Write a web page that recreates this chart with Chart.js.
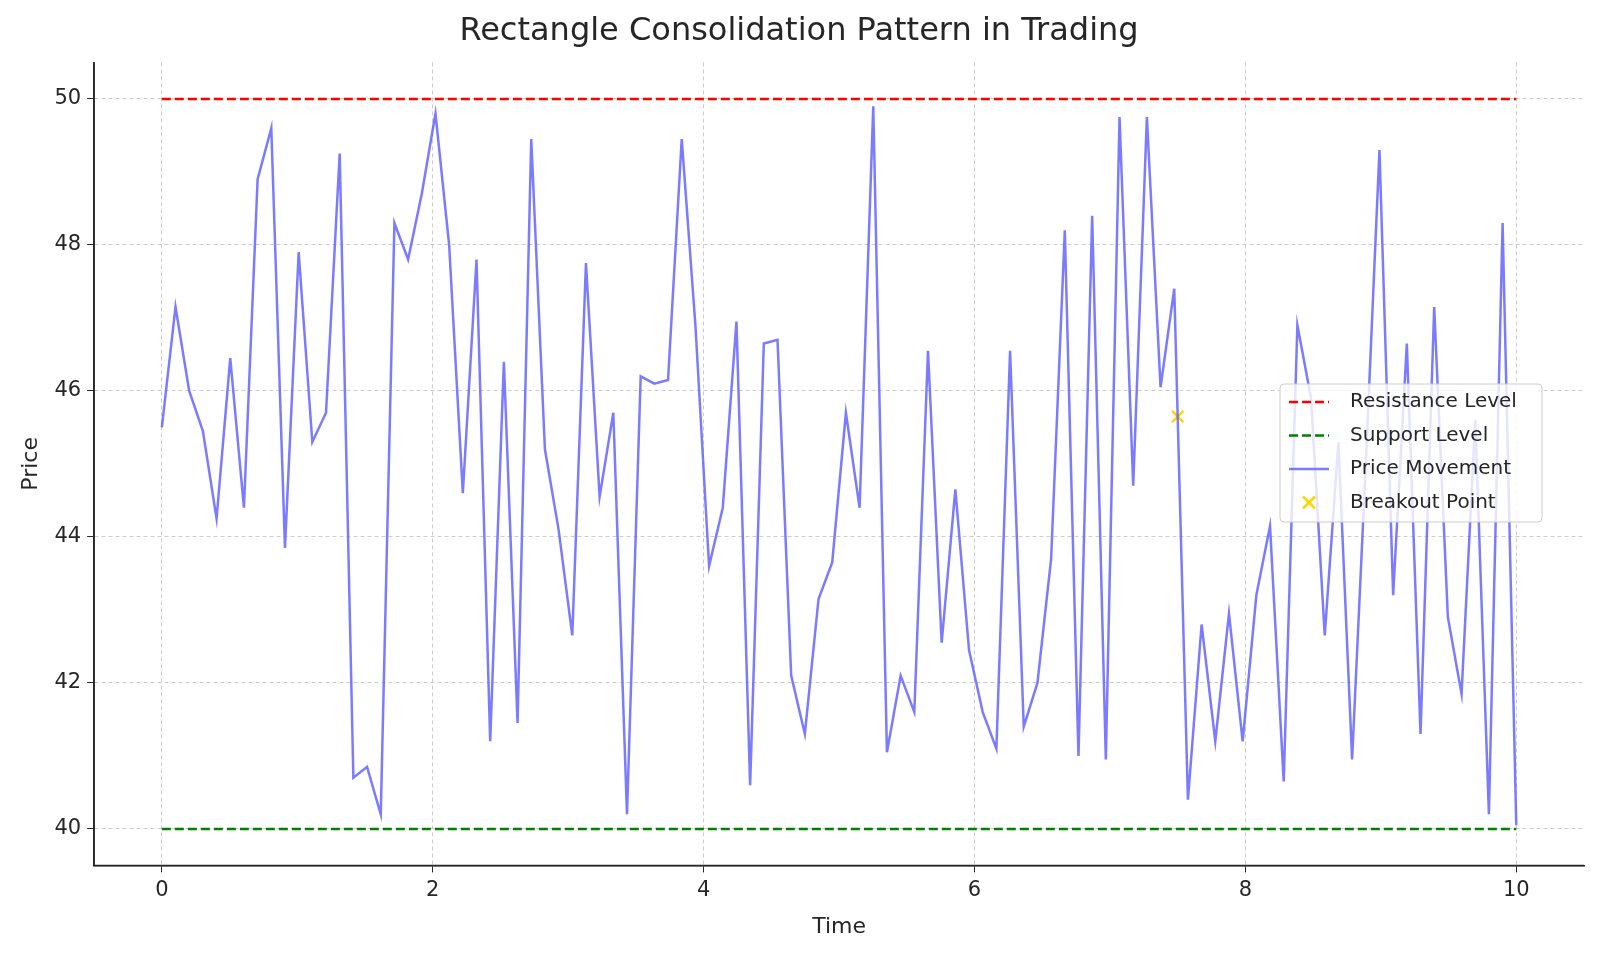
<!DOCTYPE html>
<html><head><meta charset="utf-8">
<script src="https://cdn.jsdelivr.net/npm/chart.js@4"></script>
<style>html,body{margin:0;padding:0;background:#fff}#w{width:1600px;height:954px}</style>
</head><body><div id="w"><canvas id="c"></canvas></div>
<script>
const prices=[45.5,47.15,46.0,45.45,44.25,46.45,44.4,48.9,49.6,43.85,47.9,45.3,45.7,49.25,40.7,40.85,40.2,48.3,47.8,48.7,49.8,48.0,44.6,47.8,41.2,46.4,41.45,49.45,45.2,44.1,42.65,47.75,44.55,45.7,40.2,46.2,46.1,46.15,49.45,46.9,43.6,44.4,46.95,40.6,46.65,46.7,42.1,41.3,43.15,43.65,45.7,44.4,49.9,41.05,42.1,41.6,46.55,42.55,44.65,42.45,41.6,41.1,46.55,41.4,42.0,43.7,48.2,41.0,48.4,40.95,49.75,44.7,49.75,46.05,47.4,40.4,42.8,41.2,42.95,41.2,43.2,44.15,40.65,46.9,45.9,42.65,45.3,40.95,45.0,49.3,43.2,46.65,41.3,47.15,42.9,41.85,45.6,40.2,48.3,40.05];
const times=prices.map((_,i)=>i*10/99);
const resistance=50, support=40;
const breakout={x:7.5,y:45.65};
const font="'DejaVu Sans'";
const axesPlugin={id:'ax',afterDatasetsDraw(ch){const c=ch.ctx,a=ch.chartArea;c.save();c.strokeStyle='#262626';c.lineWidth=1.5;c.beginPath();c.moveTo(a.left,a.top);c.lineTo(a.left,a.bottom);c.lineTo(a.right,a.bottom);c.stroke();c.restore();}};
const legendPlugin={id:'lg',afterDraw(ch){
  const c=ch.ctx,x=1280,y=384,w=262,h=138;
  c.save();c.fillStyle='rgba(255,255,255,0.8)';c.strokeStyle='#ccc';c.lineWidth=1;
  c.beginPath();c.roundRect(x,y,w,h,4);c.fill();c.stroke();
  const items=[['Resistance Level','red','dash'],['Support Level','green','dash'],['Price Movement','rgba(100,100,255,0.85)','line'],['Breakout Point','gold','x']];
  c.font="20px "+font;c.textBaseline='middle';
  items.forEach((it,i)=>{const yy=y+18+i*33.5;c.strokeStyle=it[1];c.lineWidth=2.5;
    if(it[2]==='x'){c.beginPath();c.moveTo(1303,yy-6);c.lineTo(1315,yy+6);c.moveTo(1315,yy-6);c.lineTo(1303,yy+6);c.stroke();}
    else{c.setLineDash(it[2]==='dash'?[9,4]:[]);c.beginPath();c.moveTo(1289,yy);c.lineTo(1329,yy);c.stroke();c.setLineDash([]);}
    c.fillStyle='#262626';c.fillText(it[0],1350,yy);});
  c.restore();}};
new Chart(document.getElementById('c'),{
 data:{datasets:[
  {type:'line',label:'Resistance Level',data:[{x:0,y:resistance},{x:10,y:resistance}],borderColor:'red',borderDash:[9,4],borderWidth:2.5,pointRadius:0},
  {type:'line',label:'Support Level',data:[{x:0,y:support},{x:10,y:support}],borderColor:'green',borderDash:[9,4],borderWidth:2.5,pointRadius:0},
  {type:'line',label:'Price Movement',data:times.map((t,i)=>({x:t,y:prices[i]})),borderColor:'rgba(100,100,255,0.85)',borderWidth:2.5,pointRadius:0,tension:0},
  {type:'scatter',label:'Breakout Point',data:[breakout],pointStyle:'crossRot',pointRadius:8,borderColor:'gold',borderWidth:2.5}
 ]},
 options:{responsive:true,maintainAspectRatio:false,animation:false,
  layout:{padding:{left:14,right:16,top:6,bottom:10}},
  plugins:{legend:{display:false},tooltip:{enabled:false},
   title:{display:true,text:'Rectangle Consolidation Pattern in Trading',color:'#262626',font:{family:font,size:32,weight:'normal'},padding:{top:6,bottom:12}}},
  scales:{
   x:{type:'linear',min:-0.5,max:10.5,afterBuildTicks:a=>{a.ticks=[0,2,4,6,8,10].map(v=>({value:v}))},
    title:{display:true,text:'Time',color:'#262626',font:{family:font,size:22}},
    ticks:{color:'#262626',font:{family:font,size:21},padding:6},
    grid:{color:'#ccc',tickColor:'#262626',tickLength:7},border:{color:'#262626',width:1.5,dash:[4,3]}},
   y:{min:39.5,max:50.5,afterBuildTicks:a=>{a.ticks=[40,42,44,46,48,50].map(v=>({value:v}))},
    title:{display:true,text:'Price',color:'#262626',font:{family:font,size:22}},
    ticks:{color:'#262626',font:{family:font,size:21},padding:6},
    grid:{color:'#ccc',tickColor:'#262626',tickLength:7},border:{color:'#262626',width:1.5,dash:[4,3]}}
  }}
 ,plugins:[axesPlugin,legendPlugin]});
</script></body></html>
